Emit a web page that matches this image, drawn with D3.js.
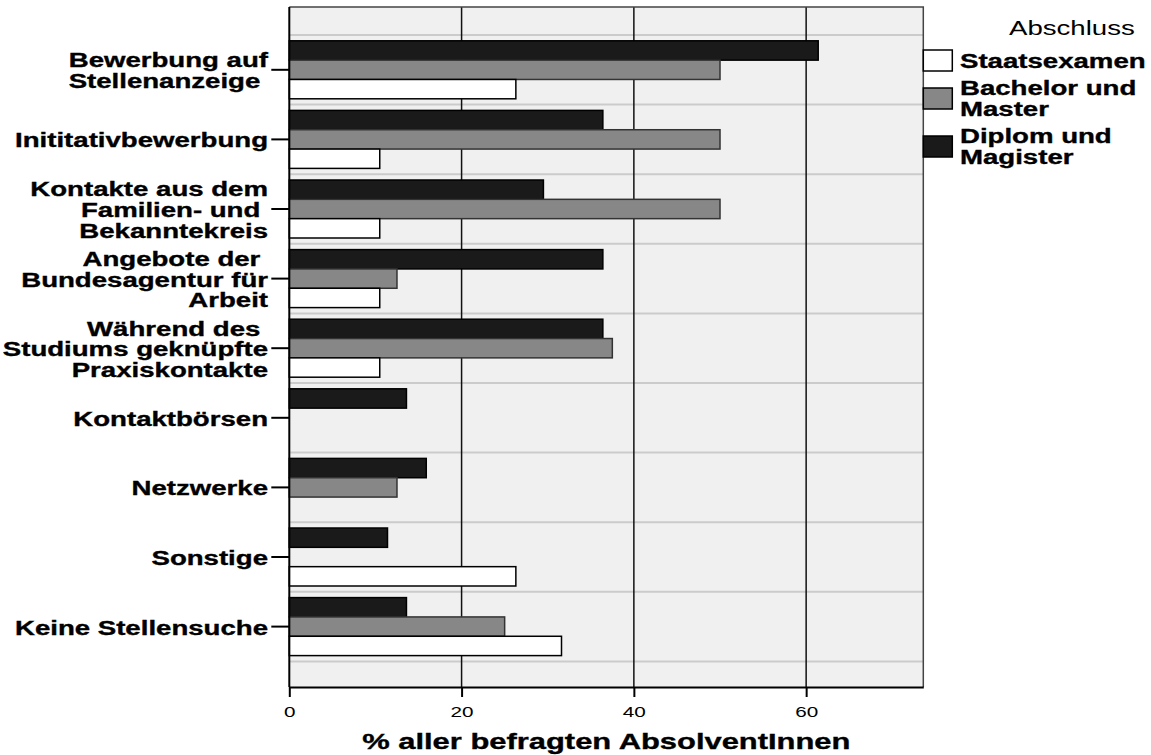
<!DOCTYPE html>
<html>
<head>
<meta charset="utf-8">
<script src="https://cdn.jsdelivr.net/npm/d3@7"></script>
<style>
  body { margin: 0; background: #fff; }
  text { font-family: "Liberation Sans", Arial, sans-serif; white-space: pre; }
  text.bold { font-weight: bold; stroke: #000; stroke-width: 0.35px; }
</style>
</head>
<body>
<div id="chart"></div>
<script>
// data
let categories = ["Bewerbung", "Initiativ", "Kontakte", "Angebote", "Studium",
    "Kontaktboersen", "Netzwerke", "Sonstige", "Keine"];
let catLabels = [
    ["Bewerbung auf", "Stellenanzeige "],
    ["Inititativbewerbung"],
    ["Kontakte aus dem", "Familien- und ", "Bekanntekreis"],
    ["Angebote der ", "Bundesagentur für", "Arbeit"],
    ["Während des ", "Studiums geknüpfte", "Praxiskontakte"],
    ["Kontaktbörsen"],
    ["Netzwerke"],
    ["Sonstige"],
    ["Keine Stellensuche"]
];
let series = ["Diplom und Magister", "Bachelor und Master", "Staatsexamen"];
let diplom = [61.4, 36.4, 29.5, 36.4, 36.4, 13.6, 15.9, 11.4, 13.6];
let bachelor = [50, 50, 50, 12.5, 37.5, 0, 12.5, 0, 25];
let staats = [26.3, 10.5, 10.5, 10.5, 10.5, 0, 0, 26.3, 31.6];
let xTicks = [0, 20, 40, 60];
let legendOrder = ["Staatsexamen", "Bachelor und Master", "Diplom und Magister"];
let legendLines = [["Staatsexamen"], ["Bachelor und", "Master"], ["Diplom und", "Magister"]];

let colors = {
    "Diplom und Magister": "#1a1a1a",
    "Bachelor und Master": "#878787",
    "Staatsexamen": "#ffffff"
};
let valuesBySeries = {
    "Diplom und Magister": diplom,
    "Bachelor und Master": bachelor,
    "Staatsexamen": staats
};

let svgWidth = 1151;
let svgHeight = 755;
let plot = {left: 289.3, right: 923.3, top: 7, bottom: 687};
let sx = 1.38; // the picture's text is stretched sideways

let svg = d3.select("#chart")
    .append("svg")
    .attr("width", svgWidth)
    .attr("height", svgHeight);

// scales
let xScale = d3.scaleLinear()
    .domain([0, 73.6])
    .range([plot.left, plot.right]);

let yScale = d3.scaleBand()
    .domain(categories)
    .range([35, 35 + 9 * 69.6])
    .paddingInner(0)
    .paddingOuter(0);

let subScale = d3.scaleBand()
    .domain(series)
    .range([0, yScale.bandwidth()])
    .paddingInner(0)
    .paddingOuter(0.3);

// background
svg.append("rect")
    .attr("x", plot.left)
    .attr("y", plot.top)
    .attr("width", plot.right - plot.left)
    .attr("height", plot.bottom - plot.top)
    .attr("fill", "#f0f0f0");

// category separators
let seps = categories.map(c => yScale(c));
seps.push(yScale.range()[1]);
svg.append("g").selectAll("line")
    .data(seps)
    .enter()
    .append("line")
    .attr("x1", plot.left)
    .attr("x2", plot.right)
    .attr("y1", d => d)
    .attr("y2", d => d)
    .attr("stroke", "#cbcbcb")
    .attr("stroke-width", 2);

// vertical gridlines
svg.append("g").selectAll("line")
    .data(xTicks.filter(t => t > 0))
    .enter()
    .append("line")
    .attr("x1", d => xScale(d))
    .attr("x2", d => xScale(d))
    .attr("y1", plot.top)
    .attr("y2", plot.bottom)
    .attr("stroke", "#111")
    .attr("stroke-width", 1.5);

// bars
let barData = [];
categories.forEach((c, i) => {
    series.forEach(s => {
        barData.push({cat: c, series: s, value: valuesBySeries[s][i]});
    });
});

svg.append("g").selectAll("rect")
    .data(barData.filter(d => d.value > 0))
    .enter()
    .append("rect")
    .attr("x", xScale(0))
    .attr("y", d => yScale(d.cat) + subScale(d.series))
    .attr("width", d => xScale(d.value) - xScale(0))
    .attr("height", subScale.bandwidth())
    .attr("fill", d => colors[d.series])
    .attr("stroke", d => d.series === "Bachelor und Master" ? "#333" : "#000")
    .attr("stroke-width", 1.5);

// plot border
svg.append("path")
    .attr("d", `M${plot.left},${plot.top}H${plot.right}V${plot.bottom}`)
    .attr("fill", "none")
    .attr("stroke", "#444")
    .attr("stroke-width", 1.5);

// x axis
let xAxis = svg.append("g")
    .attr("transform", `translate(0, ${plot.bottom})`)
    .call(d3.axisBottom(xScale).tickValues(xTicks).tickSize(10).tickSizeOuter(0).tickFormat(d3.format("d")));
xAxis.select(".domain").attr("stroke", "#000").attr("stroke-width", 2);
xAxis.selectAll(".tick line").attr("stroke", "#000").attr("stroke-width", 2);
xAxis.selectAll(".tick text")
    .attr("y", 0)
    .attr("dy", 0)
    .attr("transform", `translate(0, 30) scale(${sx}, 1)`)
    .style("font-size", "15px")
    .attr("fill", "#000");

svg.append("text")
    .attr("class", "bold")
    .attr("transform", `translate(${(plot.left + plot.right) / 2}, 749) scale(${sx}, 1)`)
    .attr("text-anchor", "middle")
    .style("font-size", "22.4px")
    .text("% aller befragten AbsolventInnen");

// y axis
let yAxis = svg.append("g")
    .attr("transform", `translate(${plot.left}, 0)`)
    .call(d3.axisLeft(yScale).tickSize(18).tickSizeOuter(0).tickFormat(""));
yAxis.select(".domain").attr("stroke", "#000").attr("stroke-width", 2)
    .attr("d", `M0,${plot.top}V${plot.bottom}`);
yAxis.selectAll(".tick line").attr("stroke", "#000").attr("stroke-width", 2);

let lineH = 20.7;
let labelGroups = svg.append("g").selectAll("g")
    .data(categories)
    .enter()
    .append("g")
    .attr("transform", d => `translate(268, ${yScale(d) + yScale.bandwidth() / 2}) scale(${sx}, 1)`);

labelGroups.each(function(d, i) {
    let lines = catLabels[i];
    let n = lines.length;
    d3.select(this).selectAll("text")
        .data(lines)
        .enter()
        .append("text")
        .attr("class", "bold")
        .attr("x", 0)
        .attr("y", (l, j) => (j - (n - 1) / 2) * lineH + 8)
        .attr("text-anchor", "end")
        .style("font-size", "20px")
        .text(l => l);
});

// legend
svg.append("text")
    .attr("transform", `translate(1009, 35) scale(${sx}, 1)`)
    .style("font-size", "20px")
    .text("Abschluss");

let cy = 46.5;
legendOrder.forEach((s, i) => {
    let lines = legendLines[i];
    let n = lines.length;
    let h = 20 * n + 8;
    let c = cy + h / 2;
    svg.append("rect")
        .attr("x", 923.3)
        .attr("y", c - 10.5)
        .attr("width", 29)
        .attr("height", 21)
        .attr("fill", colors[s])
        .attr("stroke", "#000")
        .attr("stroke-width", 1.5);
    lines.forEach((l, j) => {
        svg.append("text")
            .attr("class", "bold")
            .attr("transform", `translate(960, ${c + (j - (n - 1) / 2) * lineH + 7}) scale(${sx}, 1)`)
            .style("font-size", "20px")
            .text(l);
    });
    cy += h;
});
</script>
</body>
</html>
